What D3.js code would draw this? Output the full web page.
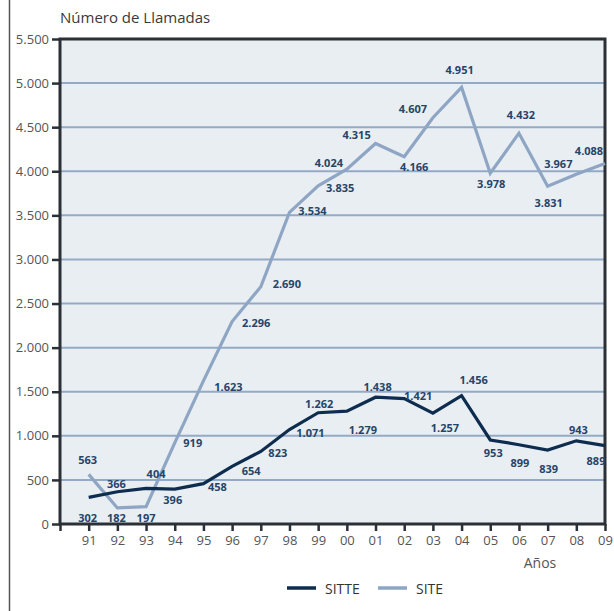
<!DOCTYPE html>
<html>
<head>
<meta charset="utf-8">
<script src="https://cdn.jsdelivr.net/npm/d3@7"></script>
<style>
  html, body { margin: 0; padding: 0; background: #fff; }
  svg { display: block; font-family: "Open Sans", "Noto Sans", sans-serif; }
</style>
</head>
<body>
<svg id="chart" width="614" height="611"></svg>
<script>
// Years (two-digit labels) and annual call counts
const years = ["91","92","93","94","95","96","97","98","99","00","01","02","03","04","05","06","07","08","09"];
const sitte = [302, 366, 404, 396, 458, 654, 823, 1071, 1262, 1279, 1438, 1421, 1257, 1456, 953, 899, 839, 943, 889];
const site  = [563, 182, 197, 919, 1623, 2296, 2690, 3534, 3835, 4024, 4315, 4166, 4607, 4951, 3978, 4432, 3831, 3967, 4088];
const yTicks = [0, 500, 1000, 1500, 2000, 2500, 3000, 3500, 4000, 4500, 5000, 5500];

// Value-label placement (dx, dy from the point) so labels avoid the lines
const sitteLabelOffsets = [[-1,20],[-1,-8],[10,-15],[-2,10],[14,3],[19,4],[17,1],[21,3],[1,-9],[16,18],
                           [2,-11],[14,-3],[12,14],[12,-16],[3,13],[1,18],[1,18],[2,-11],[-9,15]];
const siteLabelOffsets  = [[-1,-15],[-1,10],[0,11],[18,0],[25,6],[24,1],[26,-3],[23,-2],[22,2],[-18,-7],
                           [-19,-9],[10,10],[-20,-9],[-2,-18],[1,10],[2,-19],[1,16],[-18,-11],[-16,-13]];

const fmt = d3.formatLocale({decimal: ",", thousands: ".", grouping: [3], currency: ["", ""]}).format(",d");

const svg = d3.select("#chart");
const plotL = 60, plotR = 605, plotT = 39, plotB = 524;

// x positions: the left axis sits one step before the first year
const x = d3.scaleLinear().domain([-1, years.length - 1]).range([plotL, plotR]);
const y = d3.scaleLinear().domain([0, 5500]).range([plotB, plotT]);

// outer frame line on the left of the page
svg.append("line").attr("x1", 9.5).attr("x2", 9.5).attr("y1", 0).attr("y2", 611)
  .attr("stroke", "#555").attr("stroke-width", 1.5);

// plot background
svg.append("rect").attr("x", plotL).attr("y", plotT)
  .attr("width", plotR - plotL).attr("height", plotB - plotT).attr("fill", "#e9eef3");

// horizontal gridlines
svg.append("g").selectAll("line").data(yTicks.filter(v => v > 0 && v < 5500)).join("line")
  .attr("x1", plotL).attr("x2", plotR)
  .attr("y1", d => y(d)).attr("y2", d => y(d))
  .attr("stroke", "#93aac7").attr("stroke-width", 2);

// y axis
const yAxis = svg.append("g").attr("transform", `translate(${plotL},0)`)
  .call(d3.axisLeft(y).tickValues(yTicks).tickFormat(fmt).tickSize(8).tickPadding(3));
yAxis.select(".domain").remove();
yAxis.selectAll(".tick line").attr("stroke", "#2b2f36").attr("stroke-width", 2.5);
yAxis.selectAll(".tick text").attr("font-size", 13).attr("fill", "#555")
  .attr("font-family", "'Open Sans', 'Noto Sans', sans-serif");

// x axis
const xAxis = svg.append("g").attr("transform", `translate(0,${plotB})`)
  .call(d3.axisBottom(x).tickValues(d3.range(-1, years.length))
    .tickFormat(i => i >= 0 ? years[i] : "").tickSize(7).tickPadding(5));
xAxis.select(".domain").remove();
xAxis.selectAll(".tick line").attr("stroke", "#2b2f36").attr("stroke-width", 2.5);
xAxis.selectAll(".tick text").attr("font-size", 13).attr("fill", "#555")
  .attr("font-family", "'Open Sans', 'Noto Sans', sans-serif");

// plot frame
svg.append("rect").attr("x", plotL).attr("y", plotT)
  .attr("width", plotR - plotL).attr("height", plotB - plotT)
  .attr("fill", "none").attr("stroke", "#2b2f36").attr("stroke-width", 3);

// series lines
const line = d3.line().x((d, i) => x(i)).y(d => y(d));
svg.append("path").datum(site).attr("d", line)
  .attr("fill", "none").attr("stroke", "#8ea6c4").attr("stroke-width", 3.2).attr("stroke-linejoin", "miter");
svg.append("path").datum(sitte).attr("d", line)
  .attr("fill", "none").attr("stroke", "#0e2c4e").attr("stroke-width", 3.2).attr("stroke-linejoin", "miter");

// value labels
function labels(values, offsets) {
  svg.append("g").selectAll("text").data(values).join("text")
    .attr("x", (d, i) => x(i) + offsets[i][0])
    .attr("y", (d, i) => y(d) + offsets[i][1])
    .attr("text-anchor", "middle").attr("dominant-baseline", "central")
    .attr("font-size", 11).attr("font-weight", "bold").attr("fill", "#264468")
    .text(d => fmt(d));
}
labels(site, siteLabelOffsets);
labels(sitte, sitteLabelOffsets);

// titles
svg.append("text").attr("x", 60).attr("y", 23).attr("font-size", 15).attr("fill", "#3a3a3a")
  .text("Número de Llamadas");
svg.append("text").attr("x", 540).attr("y", 568).attr("text-anchor", "middle")
  .attr("font-size", 14).attr("fill", "#555").text("Años");

// legend
const legend = [{name: "SITTE", color: "#0e2c4e", x: 287}, {name: "SITE", color: "#8ea6c4", x: 378}];
const lg = svg.append("g").selectAll("g").data(legend).join("g")
  .attr("transform", d => `translate(${d.x},588)`);
lg.append("line").attr("x1", 0).attr("x2", 29).attr("stroke", d => d.color).attr("stroke-width", 3.5);
lg.append("text").attr("x", 38).attr("dominant-baseline", "central")
  .attr("font-size", 14).attr("fill", "#333").text(d => d.name);
</script>
</body>
</html>
